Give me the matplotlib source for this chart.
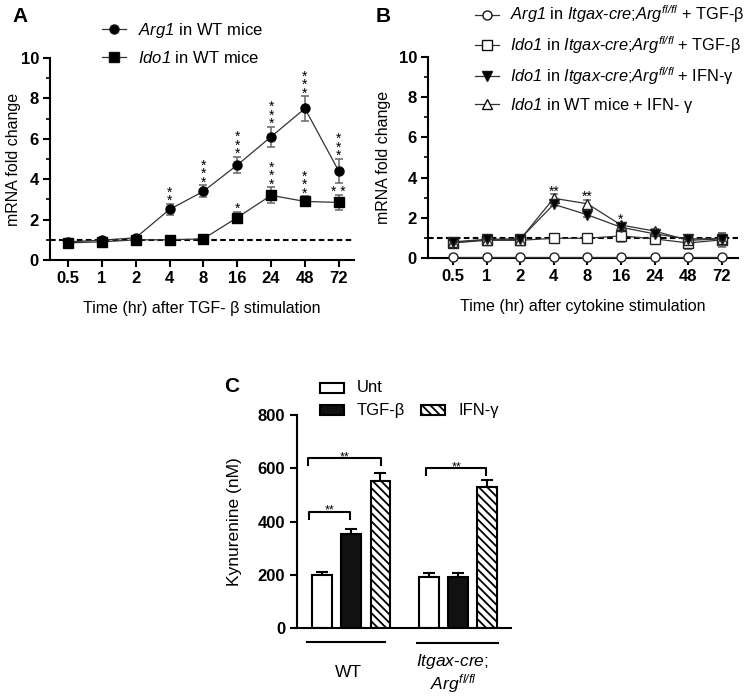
import matplotlib
matplotlib.use('Agg')
import matplotlib.pyplot as plt
from matplotlib.patches import Rectangle
from matplotlib.lines import Line2D
from matplotlib.transforms import blended_transform_factory
import numpy as np

plt.rcParams['font.family'] = ['Liberation Sans', 'DejaVu Sans']
# everything written inside $...$ is italic (gene names), plain text stays upright
plt.rcParams['mathtext.fontset'] = 'custom'
plt.rcParams['mathtext.rm'] = 'Liberation Sans:italic'
plt.rcParams['mathtext.it'] = 'Liberation Sans:italic'
plt.rcParams['mathtext.bf'] = 'Liberation Sans:bold'
plt.rcParams['hatch.linewidth'] = 1.3
plt.rcParams['axes.linewidth'] = 1.5

hours = ['0.5', '1', '2', '4', '8', '16', '24', '48', '72']

# panel A: TGF-b time course in WT mice
arg1_wt = [0.9, 0.98, 1.1, 2.5, 3.4, 4.7, 6.1, 7.5, 4.4]
arg1_wt_err = [0.05, 0.05, 0.05, 0.28, 0.3, 0.4, 0.5, 0.6, 0.6]
ido1_wt = [0.85, 0.9, 1.0, 1.0, 1.05, 2.1, 3.2, 2.9, 2.85]
ido1_wt_err = [0.1, 0.05, 0.05, 0.05, 0.05, 0.28, 0.4, 0.25, 0.37]
arg1_wt_sig = ['', '', '', '**', '***', '***', '***', '***', '***']
ido1_wt_sig = ['', '', '', '', '', '*', '***', '***', '* *']

# panel B: cytokine time course
arg1_ko_tgf = [0.05, 0.05, 0.05, 0.05, 0.05, 0.05, 0.05, 0.05, 0.05]
arg1_ko_tgf_err = [0.1, 0.1, 0.1, 0.1, 0.1, 0.1, 0.1, 0.1, 0.1]
ido1_ko_tgf = [0.75, 0.88, 0.88, 0.98, 0.98, 1.1, 0.95, 0.75, 0.9]
ido1_ko_tgf_err = [0.1, 0.1, 0.1, 0.15, 0.08, 0.3, 0.25, 0.3, 0.35]
ido1_ko_ifn = [0.8, 0.93, 0.95, 2.67, 2.15, 1.53, 1.2, 0.95, 0.97]
ido1_ko_ifn_err = [0.1, 0.08, 0.08, 0.1, 0.1, 0.1, 0.1, 0.08, 0.1]
ido1_wt_ifn = [0.78, 0.9, 0.92, 2.97, 2.7, 1.64, 1.34, 0.88, 0.95]
ido1_wt_ifn_err = [0.08, 0.08, 0.08, 0.2, 0.2, 0.1, 0.1, 0.1, 0.3]
ifn_sig = ['', '', '', '**', '**', '*', '', '', '']

# panel C: kynurenine
treatments = ['Unt', 'TGF-β', 'IFN-γ']
kyn_wt = [200, 352, 552]
kyn_wt_err = [10, 20, 30]
kyn_ko = [192, 190, 530]
kyn_ko_err = [14, 16, 26]

W, H = 747, 698
fig = plt.figure(figsize=(W / 100, H / 100), dpi=100)


def px_axes(x0, y0, x1, y1):
    # pixel box -> figure fraction
    return fig.add_axes([x0 / W, 1 - y1 / H, (x1 - x0) / W, (y1 - y0) / H])


def stars(ax, x, y, s, vertical, fs=10):
    if not s:
        return
    if vertical and ' ' not in s:
        s = '\n'.join(s)
    ax.annotate(s, (x, y), xytext=(0, -3.0), textcoords='offset points',
                ha='center', va='bottom', fontsize=fs, linespacing=0.5)


def time_axis(ax, xlim, labx):
    ax.set_xlim(*xlim)
    ax.set_ylim(0, 10)
    ax.set_xticks(range(len(hours)))
    ax.set_xticklabels(hours)
    ax.set_yticks(range(0, 11, 2))
    ax.set_yticks(range(1, 10, 2), minor=True)
    for sp in ['top', 'right']:
        ax.spines[sp].set_visible(False)
    ax.tick_params(axis='both', which='major', width=1.5, length=5, labelsize=12, pad=3)
    ax.tick_params(axis='y', which='minor', width=1.2, length=3)
    for lab in ax.get_xticklabels() + ax.get_yticklabels():
        lab.set_fontweight('bold')
    ax.axhline(1, ls=(0, (2.7, 1.6)), color='k', lw=1.5, zorder=1)
    ax.set_ylabel('mRNA fold change', fontsize=11.5)
    ax.yaxis.set_label_coords(labx, 0.5)


def handle(marker, face):
    return Line2D([], [], color='#333333', lw=0.9, marker=marker, ms=6.5,
                  mfc=face, mec='#111111')


x = np.arange(len(hours))

# ---------------- A ----------------
axA = px_axes(50, 58, 354, 260)
time_axis(axA, (-0.53, 8.45), -0.094)
axA.errorbar(x, arg1_wt, yerr=arg1_wt_err, fmt='-o', color='#333333', lw=0.9, ms=6.5,
             mfc='black', mec='black', ecolor='#666666', elinewidth=1.1, capsize=3, capthick=1.1,
             zorder=3)
axA.errorbar(x, ido1_wt, yerr=ido1_wt_err, fmt='-s', color='#333333', lw=0.9, ms=6.5,
             mfc='black', mec='black', ecolor='#666666', elinewidth=1.1, capsize=3, capthick=1.1,
             zorder=3)
for i in range(len(hours)):
    stars(axA, x[i], arg1_wt[i] + arg1_wt_err[i], arg1_wt_sig[i], True)
    stars(axA, x[i], ido1_wt[i] + ido1_wt_err[i], ido1_wt_sig[i], True)
axA.set_xlabel('Time (hr) after TGF- β stimulation', fontsize=11.5, labelpad=11)
axA.legend([handle('o', 'black'), handle('s', 'black')],
           [r'$Arg1$ in WT mice', r'$Ido1$ in WT mice'],
           loc='upper left', bbox_to_anchor=(0.17, 1.185), frameon=False, fontsize=12,
           handlelength=1.45, handletextpad=0.7, labelspacing=0.6, borderpad=0, borderaxespad=0)
fig.text(12 / W, 1 - 16 / H, 'A', fontsize=15, fontweight='bold', va='center')

# ---------------- B ----------------
axB = px_axes(428, 57, 738, 258)
time_axis(axB, (-0.74, 8.48), -0.118)
common = dict(color='#333333', lw=0.9, ms=6.5, mec='#222222', ecolor='#666666',
              elinewidth=1.1, capsize=3, capthick=1.1, clip_on=False)
axB.errorbar(x, arg1_ko_tgf, yerr=arg1_ko_tgf_err, fmt='-o', mfc='white', zorder=4, **common)
axB.errorbar(x, ido1_ko_tgf, yerr=ido1_ko_tgf_err, fmt='-s', mfc='white', zorder=3, **common)
axB.errorbar(x, ido1_ko_ifn, yerr=ido1_ko_ifn_err, fmt='-v', mfc='black', zorder=5, **common)
axB.errorbar(x, ido1_wt_ifn, yerr=ido1_wt_ifn_err, fmt='-^', mfc='white', zorder=4, **common)
for i in range(len(hours)):
    top = max(ido1_wt_ifn[i] + ido1_wt_ifn_err[i], ido1_ko_ifn[i] + ido1_ko_ifn_err[i])
    stars(axB, x[i], top, ifn_sig[i], False)
axB.set_xlabel('Time (hr) after cytokine stimulation', fontsize=11.5, labelpad=11)
ko = r'$Itgax$-$cre$;$Arg^{fl/fl}$'
axB.legend([handle('o', 'white'), handle('s', 'white'), handle('v', 'black'), handle('^', 'white')],
           [r'$Arg1$ in ' + ko + ' + TGF-β',
            r'$Ido1$ in ' + ko + ' + TGF-β',
            r'$Ido1$ in ' + ko + ' + IFN-γ',
            r'$Ido1$ in WT mice + IFN- γ'],
           loc='upper left', bbox_to_anchor=(0.152, 1.265), frameon=False, fontsize=11.8,
           handlelength=1.45, handletextpad=0.7, labelspacing=0.55, borderpad=0, borderaxespad=0)
fig.text(376 / W, 1 - 16 / H, 'B', fontsize=15, fontweight='bold', va='center')

# ---------------- C ----------------
axC = px_axes(297, 415, 511, 628)
xw = np.arange(3)
xk = np.arange(3) + 3.65
faces = ['white', '#111111', 'white']
hatches = ['', '', '\\\\\\\\']
for vals, errs, xs in [(kyn_wt, kyn_wt_err, xw), (kyn_ko, kyn_ko_err, xk)]:
    for i in range(3):
        axC.bar(xs[i], vals[i], width=0.68, color=faces[i], edgecolor='black', lw=1.5,
                hatch=hatches[i], zorder=2)
        axC.errorbar(xs[i], vals[i], yerr=[[0], [errs[i]]], color='black', lw=1.5,
                     capsize=4.3, capthick=1.5, zorder=1)
axC.set_xlim(-0.86, 6.47)
axC.set_ylim(0, 800)
axC.set_yticks([0, 200, 400, 600, 800])
axC.set_xticks([])
for sp in ['top', 'right']:
    axC.spines[sp].set_visible(False)
axC.tick_params(axis='y', width=1.5, length=5, labelsize=12)
for lab in axC.get_yticklabels():
    lab.set_fontweight('bold')
axC.set_ylabel('Kynurenine (nM)', fontsize=12.5)
axC.yaxis.set_label_coords(-0.255, 0.5)


def bracket(ax, x0, x1, y, h=26):
    ax.plot([x0, x0, x1, x1], [y - h, y, y, y - h], color='black', lw=1.5, clip_on=False)
    ax.annotate('**', ((x0 + x1) / 2, y), xytext=(0, -1.5), textcoords='offset points',
                ha='center', va='baseline', fontsize=9)


bracket(axC, -0.48, 2.02, 638)
bracket(axC, -0.45, 0.96, 437)
bracket(axC, 3.56, 5.62, 601)

tr = blended_transform_factory(axC.transData, axC.transAxes)
axC.plot([-0.52, 2.17], [-0.066, -0.066], color='black', lw=1.5, transform=tr, clip_on=False)
axC.plot([3.24, 6.03], [-0.07, -0.07], color='black', lw=1.5, transform=tr, clip_on=False)
axC.text(0.9, -0.207, 'WT', transform=tr, ha='center', va='center', fontsize=12.5)
axC.text(4.47, -0.155, r'$Itgax$-$cre$;', transform=tr, ha='center', va='center', fontsize=12.5)
axC.text(4.5, -0.262, r'$Arg^{fl/fl}$', transform=tr, ha='center', va='center', fontsize=12.5)

# legend for C
leg_items = [(0.107, 1.127, 'white', ''), (0.107, 1.023, '#111111', ''),
             (0.58, 1.023, 'white', '\\\\\\\\')]
for (lx, ly, fc, hh), name in zip(leg_items, treatments):
    axC.add_patch(Rectangle((lx, ly - 0.024), 0.113, 0.048, transform=axC.transAxes,
                            facecolor=fc, edgecolor='black', lw=1.5, hatch=hh, clip_on=False))
    axC.text(lx + 0.173, ly, name, transform=axC.transAxes, va='center', fontsize=12)
fig.text(224 / W, 1 - 386 / H, 'C', fontsize=15, fontweight='bold', va='center')

fig.savefig('out.png', dpi=100)
